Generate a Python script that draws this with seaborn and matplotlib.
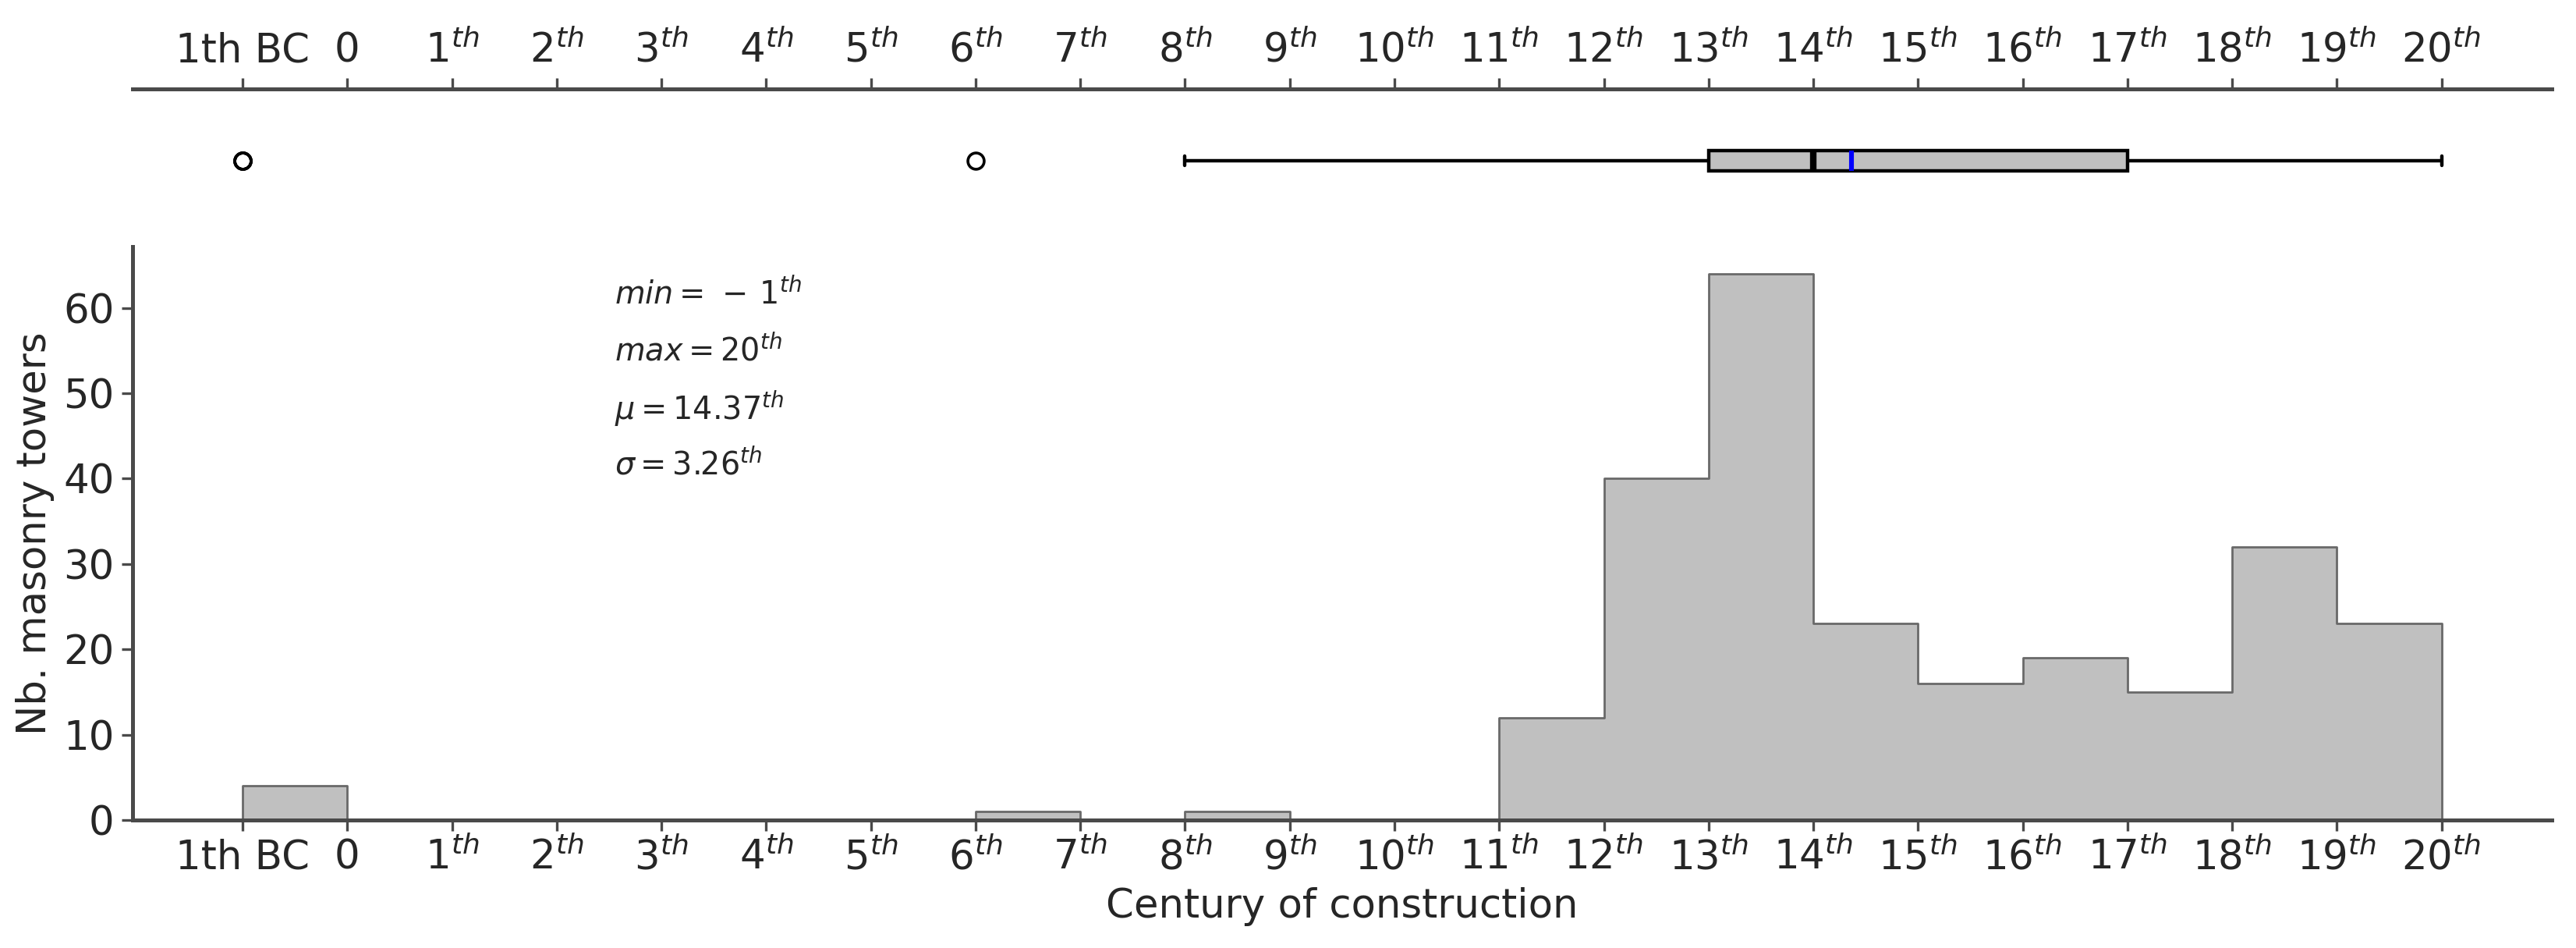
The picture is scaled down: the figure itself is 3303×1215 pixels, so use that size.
import numpy as np
import pandas as pd
import seaborn as sns
import matplotlib.pyplot as plt

# Centuries of construction (-1 = 1st century BC) and number of towers
centuries = [-1, 6, 8, 11, 12, 13, 14, 15, 16, 17, 18, 19, 20]
counts = [4, 1, 1, 12, 40, 64, 23, 16, 19, 15, 32, 19, 4]

tick_pos = list(range(-1, 21))
tick_labels = ["1th BC", "0"] + [r"$%d^{th}$" % i for i in range(1, 21)]

stats_text = [r"$min = \,-\,1^{th}$", r"$max = 20^{th}$",
              r"$\mu = 14.37^{th}$", r"$\sigma = 3.26^{th}$"]
stats_y = [61.5, 54.9, 48.2, 41.6]

df = pd.DataFrame({"century": np.repeat(centuries, counts)})

sns.set_style("ticks")
plt.rcParams["font.family"] = ["DejaVu Sans"]
spine_col = "#4a4a4a"
fs = 18.5

fig = plt.figure(figsize=(16.515, 6.075), dpi=200)
ax_hist = fig.add_axes([0.0515, 0.135, 0.939, 0.605])
ax_box = fig.add_axes([0.0515, 0.755, 0.939, 0.151], sharex=ax_hist)

# Histogram
sns.histplot(data=df, x="century", bins=np.arange(-1, 21), element="step",
             color="silver", edgecolor="dimgray", alpha=1, linewidth=1.0,
             ax=ax_hist)
ax_hist.set_xticks(tick_pos)
ax_hist.set_xticklabels(tick_labels)
ax_hist.set_xlabel("Century of construction", fontsize=fs)
ax_hist.set_ylabel("Nb. masonry towers", fontsize=fs)
ax_hist.tick_params(labelsize=fs, color=spine_col, width=1.2, length=5)
sns.despine(ax=ax_hist)
for s in ["left", "bottom"]:
    ax_hist.spines[s].set_color(spine_col)
    ax_hist.spines[s].set_linewidth(1.8)

for txt, y in zip(stats_text, stats_y):
    ax_hist.text(2.55, y, txt, fontsize=14.3, ha="left", va="center")

# Boxplot on top
sns.boxplot(data=df, x="century", ax=ax_box, width=0.14, color="silver",
            linecolor="black", linewidth=1.6, saturation=1, whis=1.5,
            showmeans=True, meanline=True,
            meanprops=dict(color="blue", linewidth=2.2, linestyle="-"),
            medianprops=dict(color="black", linewidth=3),
            flierprops=dict(marker="o", markerfacecolor="none",
                            markeredgecolor="black", markersize=7.5,
                            markeredgewidth=1.3))
ax_box.set_ylim(0.5, -0.5)
ax_box.xaxis.tick_top()
ax_box.xaxis.set_label_position("top")
ax_box.set_xlabel("")
ax_box.set_ylabel("")
ax_box.set_yticks([])
ax_box.tick_params(axis="x", labelsize=fs, color=spine_col, width=1.2,
                   length=5, top=True, bottom=False, labeltop=True,
                   labelbottom=False)
for s in ["left", "right", "bottom"]:
    ax_box.spines[s].set_visible(False)
ax_box.spines["top"].set_color(spine_col)
ax_box.spines["top"].set_linewidth(1.8)

ax_hist.set_xlim(-2.05, 21.05)
ax_box.set_xticks(tick_pos)
ax_box.set_xticklabels(tick_labels)

fig.savefig("out.png", dpi=200)
